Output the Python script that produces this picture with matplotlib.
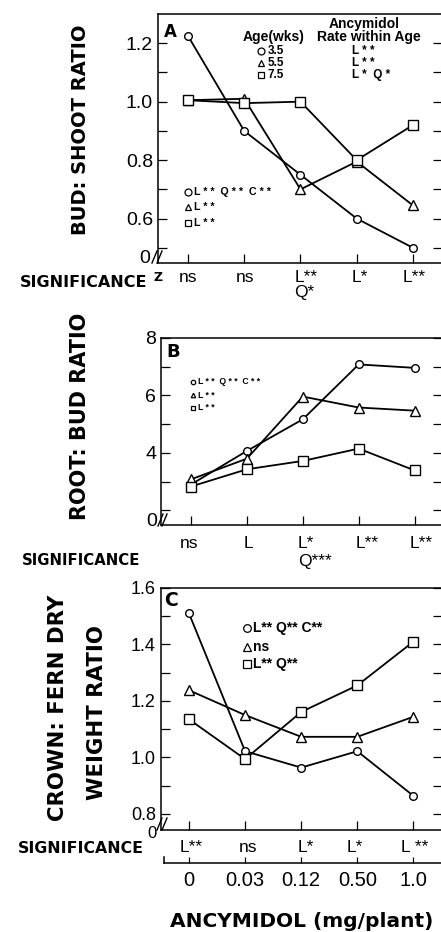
import matplotlib
matplotlib.use('Agg')
import matplotlib.pyplot as plt
from matplotlib.lines import Line2D
import numpy as np

plt.rcParams['font.family'] = ['Liberation Sans', 'DejaVu Sans']

W, H = 441, 932

# ---------------- data ----------------
doses = ['0', '0.03', '0.12', '0.50', '1.0']
ages = ['3.5', '5.5', '7.5']
age_rate_sig = ['L * *', 'L * *', 'L *  Q *']

a_35 = [1.225, 0.90, 0.75, 0.60, 0.50]
a_55 = [1.005, 1.01, 0.70, 0.795, 0.645]
a_75 = [1.005, 0.995, 1.00, 0.80, 0.92]
a_leg = ['L * *  Q * *  C * *', 'L * *', 'L * *']
a_sig = ['ns', 'ns', 'L**\nQ*', 'L*', 'L**']

b_35 = [2.90, 4.07, 5.17, 7.08, 6.96]
b_55 = [3.08, 3.80, 5.96, 5.58, 5.47]
b_75 = [2.83, 3.43, 3.72, 4.15, 3.39]
b_leg = ['L * *  Q * *  C * *', 'L * *', 'L * *']
b_sig = ['ns', 'L', 'L*\nQ***', 'L**', 'L**']

c_35 = [1.51, 1.022, 0.964, 1.022, 0.864]
c_55 = [1.238, 1.15, 1.073, 1.073, 1.144]
c_75 = [1.135, 0.994, 1.161, 1.255, 1.41]
c_leg = ['L** Q** C**', 'ns', 'L** Q**']
c_sig = ['L**', 'ns', 'L*', 'L*', 'L **']

x = np.arange(len(doses))

fig = plt.figure(figsize=(W / 100, H / 100), dpi=100)


def add_ax(l, t, r, b):
    return fig.add_axes([l / W, 1 - b / H, (r - l) / W, (b - t) / H])


def style(ax, xlim, ylim, major, labels, minor, fs):
    ax.set_xlim(xlim)
    ax.set_ylim(ylim)
    ax.set_yticks(major)
    ax.set_yticklabels(labels)
    ax.set_yticks(minor, minor=True)
    ax.tick_params(axis='y', which='both', direction='in', left=True, right=True,
                   length=6.5, width=0.9, labelsize=fs, pad=3.6)
    ax.set_xticks(x)
    ax.set_xticklabels([])
    ax.tick_params(axis='x', direction='in', length=6.5, width=0.9, top=False)
    for s in ax.spines.values():
        s.set_linewidth(1.1)
    ax.spines['right'].set_visible(False)
    ax.patch.set_visible(False)


def draw(ax, ys, marker, ms):
    ax.plot(x, ys, '-', color='black', lw=1.3, zorder=2, clip_on=False)
    ax.plot(x, ys, ls='none', marker=marker, ms=ms, mfc='white', mec='black',
            mew=1.0, zorder=3, clip_on=False)


def frac(ax_box, px, py):
    l, t, r, b = ax_box
    return (px - l) / (r - l), (b - py) / (b - t)


def fig_line(p0, p1):
    fig.add_artist(Line2D([p0[0] / W, p1[0] / W], [1 - p0[1] / H, 1 - p1[1] / H],
                          transform=fig.transFigure, color='black', lw=1.0))


def break_mark(zero_x, base_y, s1, s2, fs, line_base=None):
    fig.text(zero_x / W, 1 - base_y / H, '0', ha='right', va='baseline', fontsize=fs)
    lb = base_y if line_base is None else line_base
    fig_line((s1, lb), (s1 + 5, lb - 12))
    fig_line((s2, lb), (s2 + 5, lb - 12))


def sig_labels(ax, labels, specs, dy, fs, ls):
    for i, (lab, (ha, dx)) in enumerate(zip(labels, specs)):
        ax.annotate(lab, xy=(x[i], 0), xycoords=ax.get_xaxis_transform(),
                    xytext=(dx, -dy), textcoords='offset pixels', ha=ha, va='top',
                    fontsize=fs, linespacing=ls, multialignment='left',
                    annotation_clip=False)


def legend_rows(ax, box, mx, tx, ys, texts, ms, fs, markers=('o', '^', 's')):
    for yy, t, m in zip(ys, texts, markers):
        fx, fy = frac(box, mx, yy)
        ax.plot([fx], [fy], transform=ax.transAxes, ls='none', marker=m, ms=ms,
                mfc='white', mec='black', mew=0.9, clip_on=False)
        fx2, _ = frac(box, tx, yy)
        ax.text(fx2, fy, t, transform=ax.transAxes, ha='left', va='center',
                fontsize=fs, fontweight='bold')


# ---------------- Panel A ----------------
boxA = (158, 14, 442, 263)
axA = add_ax(*boxA)
style(axA, (-0.533, 4.516), (0.448, 1.30), [0.6, 0.8, 1.0, 1.2],
      ['0.6', '0.8', '1.0', '1.2'], [0.5, 0.7, 0.9, 1.1], 14)
draw(axA, a_35, 'o', 5.5)
draw(axA, a_55, '^', 7)
draw(axA, a_75, 's', 6.5)
fx, fy = frac(boxA, 164, 23)
axA.text(fx, fy, 'A', transform=axA.transAxes, ha='left', va='top', fontsize=12,
         fontweight='bold', family='DejaVu Sans')
# top legend table
for txt, px, py in [('Ancymidol', 364, 24), ('Age(wks)', 274, 37), ('Rate within Age', 369, 37)]:
    fx, fy = frac(boxA, px, py)
    axA.text(fx, fy, txt, transform=axA.transAxes, ha='center', va='center',
             fontsize=10, fontweight='bold')
legend_rows(axA, boxA, 261, 268, [51, 63, 75], ages, 5, 8.5)
for yy, t in zip([51, 63, 75], age_rate_sig):
    fx, fy = frac(boxA, 352, yy)
    axA.text(fx, fy, t, transform=axA.transAxes, ha='left', va='center',
             fontsize=8.5, fontweight='bold')
legend_rows(axA, boxA, 188, 194, [192, 207, 223], a_leg, 5, 7.7)
sig_labels(axA, a_sig, [('center', 0), ('center', 1), ('left', -6), ('left', -5), ('center', 1)],
           7, 12.5, 1.0)
break_mark(150, 263, 152, 157, 14)

# ---------------- Panel B ----------------
boxB = (161, 338, 442, 525)
axB = add_ax(*boxB)
style(axB, (-0.537, 4.49), (1.49, 8.0), [4, 6, 8], ['4', '6', '8'], [2, 3, 5, 7], 14)
draw(axB, b_35, 'o', 5.5)
draw(axB, b_55, '^', 7)
draw(axB, b_75, 's', 6.5)
fx, fy = frac(boxB, 166, 343)
axB.text(fx, fy, 'B', transform=axB.transAxes, ha='left', va='top', fontsize=13,
         fontweight='bold', family='DejaVu Sans')
legend_rows(axB, boxB, 193, 198, [382, 395, 408], b_leg, 3.2, 6.2)
sig_labels(axB, b_sig, [('center', -2), ('left', -3), ('left', -5), ('left', -3), ('left', -5)],
           11, 12.5, 1.25)
break_mark(157, 526, 158, 162, 14)

# ---------------- Panel C ----------------
boxC = (161, 588, 442, 830)
axC = add_ax(*boxC)
style(axC, (-0.499, 4.51), (0.743, 1.6), [0.8, 1.0, 1.2, 1.4, 1.6],
      ['0.8', '1.0', '1.2', '1.4', '1.6'], [0.9, 1.1, 1.3, 1.5], 13)
draw(axC, c_35, 'o', 5.5)
draw(axC, c_55, '^', 7)
draw(axC, c_75, 's', 6.5)
fx, fy = frac(boxC, 164, 591)
axC.text(fx, fy, 'C', transform=axC.transAxes, ha='left', va='top', fontsize=13.5,
         fontweight='bold', family='DejaVu Sans')
legend_rows(axC, boxC, 247, 253, [628, 647, 664], c_leg, 5.5, 10)
sig_labels(axC, c_sig, [('left', -9), ('center', 3), ('left', -4), ('center', -2), ('center', 1)],
           10, 12.5, 1.0)
break_mark(157, 838, 157, 162, 12, line_base=830)

# dose axis below panel C
boxC2 = (164, 857, 442, 863)
axC2 = add_ax(*boxC2)
axC2.set_xlim(-0.446, 4.51)
axC2.set_ylim(0, 1)
axC2.set_yticks([])
axC2.set_xticks(x)
axC2.set_xticklabels(doses)
axC2.tick_params(axis='x', direction='in', length=4, width=0.9, labelsize=14.5, pad=6)
axC2.spines['top'].set_visible(False)
axC2.spines['right'].set_visible(False)
axC2.spines['bottom'].set_linewidth(1.1)
axC2.spines['left'].set_linewidth(1.1)
axC2.patch.set_visible(False)

# ---------------- figure texts ----------------
bold = dict(fontweight='bold', family='DejaVu Sans')
fig.text(80 / W, 1 - 130 / H, 'BUD: SHOOT RATIO', rotation=90, ha='center', va='center',
         fontsize=14, **bold)
fig.text(80 / W, 1 - 416 / H, 'ROOT: BUD RATIO', rotation=90, ha='center', va='center',
         fontsize=15, **bold)
fig.text(58 / W, 1 - 708 / H, 'CROWN: FERN DRY', rotation=90, ha='center', va='center',
         fontsize=15.3, **bold)
fig.text(97 / W, 1 - 712 / H, 'WEIGHT RATIO', rotation=90, ha='center', va='center',
         fontsize=15.3, **bold)

fig.text(20 / W, 1 - 287 / H, 'SIGNIFICANCE', ha='left', va='baseline', fontsize=11.5, **bold)
fig.text(154 / W, 1 - 281 / H, 'Z', ha='left', va='baseline', fontsize=9, **bold)
fig.text(22 / W, 1 - 565 / H, 'SIGNIFICANCE', ha='left', va='baseline', fontsize=10.7, **bold)
fig.text(18 / W, 1 - 853 / H, 'SIGNIFICANCE', ha='left', va='baseline', fontsize=11.3, **bold)
fig.text(302 / W, 1 - 927 / H, 'ANCYMIDOL (mg/plant)', ha='center', va='baseline',
         fontsize=14.5, **bold)

fig.savefig('out.png', dpi=100)
